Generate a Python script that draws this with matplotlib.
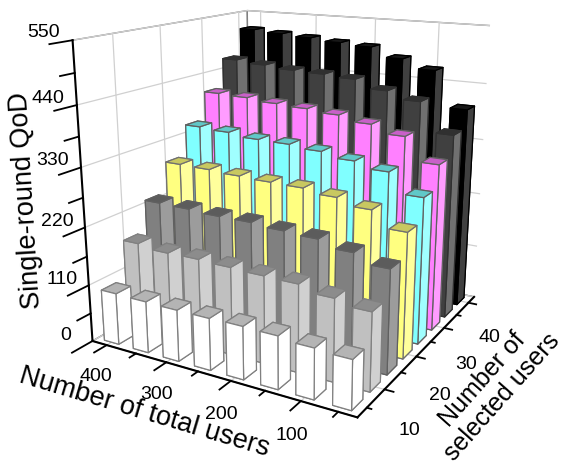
import matplotlib
matplotlib.use('Agg')
import matplotlib.pyplot as plt
import numpy as np

plt.rcParams['font.family'] = ['Liberation Sans', 'DejaVu Sans']

total_users = [50, 100, 150, 200, 250, 300, 350, 400]
selected_users = [5, 10, 15, 20, 25, 30, 35, 40]
qod_5 = [89, 92, 97, 98, 97, 97, 98, 99]
qod_10 = [143, 152, 163, 164, 166, 168, 167, 173]
qod_15 = [193, 209, 221, 224, 228, 228, 231, 232]
qod_20 = [236, 265, 277, 284, 285, 287, 290, 291]
qod_25 = [279, 316, 327, 336, 341, 342, 348, 351]
qod_30 = [322, 366, 381, 391, 396, 399, 404, 406]
qod_35 = [362, 418, 432, 448, 452, 454, 459, 464]
qod_40 = [397, 466, 483, 501, 505, 510, 514, 518]
qod = [qod_5, qod_10, qod_15, qod_20, qod_25, qod_30, qod_35, qod_40]
front_cols = ['#FFFFFF', '#C0C0C0', '#808080', '#FFFF80', '#80FFFF', '#FF80FF', '#404040', '#000000']
side_cols = ['#FFFFFF', '#D0D0D0', '#9C9C9C', '#FFFF9C', '#A0FFFF', '#FF9CFF', '#707070', '#404040']
top_cols = ['#B4B4B4', '#8C8C8C', '#5C5C5C', '#C8C860', '#60C8C8', '#C860C8', '#303030', '#181818']
edge_cols = ['#808080', '#808080', '#606060', '#707070', '#606060', '#606060', '#303030', '#000000']

fig = plt.figure(figsize=(5.67, 4.70), dpi=100)
ax = fig.add_axes([0.00649, 0.1004, 1.0, 1.0], projection='3d', computed_zorder=False)
ax.set_proj_type('persp', focal_length=0.3678)
ax.view_init(elev=16.3021, azim=-60.2326)
ax.set_box_aspect((1, 1.0047, 1.0203), zoom=1.0489)

dx, dy = 25, 3
xl = (425, 25)
yl = (2.5, 42.5)
zl = (0, 550)

n = 0
for j in range(len(selected_users) - 1, -1, -1):
    s = selected_users[j]
    for i in range(len(total_users) - 1, -1, -1):
        t = total_users[i]
        faces = ['#000000', top_cols[j], front_cols[j], front_cols[j], side_cols[j], front_cols[j]]
        ax.bar3d(t - dx / 2, s - dy / 2, 0, dx, dy, qod[j][i], color=faces,
                 edgecolor=edge_cols[j], linewidth=0.9, shade=False, zorder=10 + n)
        n += 1

ax.set_xlim(*xl)
ax.set_ylim(*yl)
ax.set_zlim(*zl)
ax.set_autoscale_on(False)

ax.set_xticks([100, 200, 300, 400])
ax.set_yticks([10, 20, 30, 40])
ax.set_zticks([0, 110, 220, 330, 440, 550])
ax.tick_params(labelsize=14, length=0)
ax.tick_params(axis='x', pad=2)
ax.tick_params(axis='y', pad=7)
ax.tick_params(axis='z', pad=3)
ax.zaxis.set_ticks_position('lower')
for lab in ax.get_zticklabels():
    lab.set_va('bottom')

for a in (ax.xaxis, ax.yaxis, ax.zaxis):
    a.set_pane_color((1, 1, 1, 1))
    a.pane.set_edgecolor('#808080')
    a.line.set_color('black')
    a.line.set_linewidth(1.5)
    a._axinfo['grid'].update(color='#D0D0D0', linewidth=0.9, linestyle='-')
    a._axinfo['tick'].update(inward_factor=0, outward_factor=0)

# tick marks
kw = dict(color='black', lw=1.3, zorder=1, clip_on=False)
for t in total_users:
    L = 2.5 if t % 100 == 0 else 1.3
    ax.plot([t, t], [yl[0], yl[0] - L], [0, 0], **kw)
for s in selected_users:
    L = 12 if s % 10 == 0 else 6
    ax.plot([xl[1], xl[1] - L], [s, s], [0, 0], **kw)
for z in range(0, 551, 55):
    L = 4.0 if z % 110 == 0 else 2.6
    ax.plot([xl[0], xl[0]], [yl[0], yl[0] - L], [z, z], **kw)

fig.text(0.047, 0.574, 'Single-round QoD', rotation=93.5, fontsize=19.5, ha='center', va='center', rotation_mode='anchor')
fig.text(0.254, 0.123, 'Number of total users', rotation=-16.6, fontsize=19.5, ha='center', va='center', rotation_mode='anchor')
fig.text(0.868, 0.174, 'Number of\nselected users', rotation=48.5, fontsize=18, ha='center', va='center', rotation_mode='anchor', linespacing=1.15)

fig.savefig('out.png', dpi=100)
